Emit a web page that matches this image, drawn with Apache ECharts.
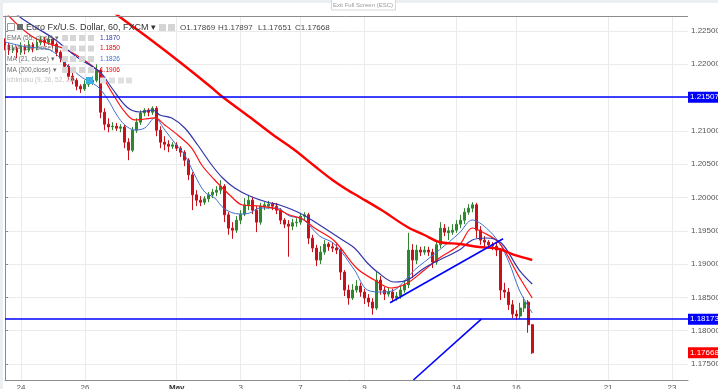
<!DOCTYPE html>
<html><head><meta charset="utf-8">
<script src="https://cdn.jsdelivr.net/npm/echarts/dist/echarts.min.js"></script>
<style>html,body{margin:0;padding:0;background:#fff;overflow:hidden}#c{width:718px;height:389px}</style>
</head><body><div id="c"></div>
<script>
// ---------- data ----------
const categoryCount = 172;                       // 3-hour slots on the time axis
const xLabelIdx  = [4, 20, 43, 59, 74, 90, 113, 128, 151, 167];
const xLabelText = ['24', '26', 'May', '3', '7', '9', '14', '16', '21', '23'];

const openP = [1.2233,1.2229,1.2221,1.2224,1.2218,1.2227,1.2221,1.2230,1.2224,1.2233,
1.2236,1.2233,1.2238,1.2230,1.2218,1.2209,1.2197,1.2182,1.2176,1.2167,
1.2163,1.2170,1.2173,1.2176,1.2191,1.2128,1.2110,1.2106,1.2107,1.2104,
1.2106,1.2083,1.2071,1.2101,1.2113,1.2127,1.2131,1.2128,1.2134,1.2101,
1.2083,1.2080,1.2077,1.2079,1.2074,1.2068,1.2056,1.2034,1.2004,1.1996,
1.1993,1.1998,1.2004,1.2008,1.2011,1.2017,1.1974,1.1954,1.1951,1.1966,
1.1975,1.1989,1.1996,1.1981,1.1963,1.1986,1.1987,1.1990,1.1987,1.1981,
1.1966,1.1960,1.1957,1.1962,1.1963,1.1972,1.1974,1.1939,1.1924,1.1906,
1.1918,1.1930,1.1926,1.1924,1.1921,1.1888,1.1861,1.1849,1.1861,1.1867,
1.1858,1.1849,1.1843,1.1834,1.1876,1.1861,1.1855,1.1858,1.1849,1.1852,
1.1861,1.1869,1.1921,1.1906,1.1921,1.1918,1.1921,1.1918,1.1903,1.1929,
1.1954,1.1947,1.1948,1.1951,1.1960,1.1966,1.1978,1.1984,1.1989,1.1951,
1.1936,1.1933,1.1929,1.1927,1.1921,1.1861,1.1858,1.1839,1.1825,1.1822,
1.1834,1.1843,1.1809];
const closeP = [1.2229,1.2221,1.2224,1.2218,1.2227,1.2221,1.2230,1.2224,1.2233,1.2236,
1.2233,1.2238,1.2230,1.2218,1.2209,1.2197,1.2182,1.2176,1.2167,1.2163,
1.2170,1.2173,1.2176,1.2191,1.2128,1.2110,1.2106,1.2107,1.2104,1.2106,
1.2083,1.2071,1.2101,1.2113,1.2127,1.2131,1.2128,1.2134,1.2101,1.2083,
1.2080,1.2077,1.2079,1.2074,1.2068,1.2056,1.2034,1.2004,1.1996,1.1993,
1.1998,1.2004,1.2008,1.2011,1.2017,1.1974,1.1954,1.1951,1.1966,1.1975,
1.1989,1.1996,1.1981,1.1963,1.1987,1.1989,1.1990,1.1987,1.1981,1.1966,
1.1960,1.1957,1.1962,1.1963,1.1972,1.1974,1.1939,1.1924,1.1906,1.1918,
1.1930,1.1926,1.1924,1.1921,1.1888,1.1861,1.1849,1.1861,1.1867,1.1858,
1.1849,1.1843,1.1834,1.1876,1.1861,1.1855,1.1858,1.1849,1.1852,1.1861,
1.1869,1.1921,1.1906,1.1921,1.1918,1.1921,1.1918,1.1903,1.1929,1.1954,
1.1948,1.1950,1.1951,1.1960,1.1966,1.1978,1.1984,1.1989,1.1951,1.1936,
1.1933,1.1929,1.1927,1.1921,1.1861,1.1858,1.1839,1.1825,1.1822,1.1834,
1.1843,1.1809,1.17668];
const lowP = [1.2221,1.2214,1.2217,1.2209,1.2214,1.2215,1.2218,1.2218,1.2221,1.2229,
1.2227,1.2229,1.2224,1.2212,1.2203,1.2191,1.2176,1.2170,1.2161,1.2157,
1.2160,1.2166,1.2169,1.2173,1.2119,1.2101,1.2098,1.2101,1.2100,1.2098,
1.2074,1.2056,1.2068,1.2097,1.2109,1.2122,1.2122,1.2124,1.2092,1.2074,
1.2071,1.2068,1.2073,1.2070,1.2061,1.2047,1.2026,1.1981,1.1987,1.1987,
1.1989,1.1993,1.1999,1.2002,1.2005,1.1963,1.1944,1.1938,1.1947,1.1960,
1.1972,1.1981,1.1975,1.1948,1.1959,1.1981,1.1983,1.1981,1.1975,1.1960,
1.1954,1.1911,1.1951,1.1956,1.1959,1.1966,1.1930,1.1918,1.1897,1.1900,
1.1914,1.1920,1.1918,1.1915,1.1876,1.1852,1.1839,1.1846,1.1857,1.1851,
1.1840,1.1836,1.1824,1.1831,1.1854,1.1846,1.1851,1.1843,1.1845,1.1848,
1.1857,1.1864,1.1879,1.1900,1.1912,1.1914,1.1912,1.1894,1.1899,1.1924,
1.1942,1.1936,1.1944,1.1947,1.1954,1.1960,1.1974,1.1978,1.1939,1.1929,
1.1926,1.1923,1.1921,1.1912,1.1846,1.1849,1.1831,1.1819,1.1816,1.1818,
1.1828,1.1797,1.17651];
const highP = [1.2239,1.2232,1.2229,1.2227,1.2233,1.2230,1.2236,1.2233,1.2239,1.2242,
1.2241,1.2244,1.2241,1.2233,1.2221,1.2212,1.2200,1.2188,1.2179,1.2170,
1.2176,1.2179,1.2182,1.2200,1.2194,1.2134,1.2119,1.2113,1.2112,1.2110,
1.2109,1.2089,1.2106,1.2119,1.2131,1.2134,1.2134,1.2137,1.2137,1.2107,
1.2092,1.2086,1.2083,1.2083,1.2077,1.2071,1.2059,1.2038,1.2011,1.2002,
1.2002,1.2008,1.2013,1.2017,1.2026,1.2020,1.1978,1.1963,1.1972,1.1981,
1.1999,1.2004,1.2001,1.1987,1.1992,1.1993,1.1995,1.1993,1.1992,1.1984,
1.1969,1.1966,1.1968,1.1969,1.1977,1.1978,1.1977,1.1944,1.1929,1.1927,
1.1936,1.1933,1.1932,1.1930,1.1924,1.1891,1.1869,1.1870,1.1876,1.1872,
1.1863,1.1855,1.1849,1.1888,1.1882,1.1866,1.1864,1.1863,1.1858,1.1867,
1.1876,1.1947,1.1930,1.1929,1.1926,1.1927,1.1926,1.1923,1.1936,1.1963,
1.1960,1.1956,1.1960,1.1966,1.1974,1.1984,1.1990,1.1993,1.1992,1.1957,
1.1942,1.1936,1.1933,1.1932,1.1924,1.1872,1.1864,1.1846,1.1831,1.1842,
1.1851,1.1846,1.17897];

// moving averages, [slot, price]
const ema55 = [[0,1.22890],[3.75,1.22710],[7.5,1.22560],[12,1.22395],[18,1.22110],[23.75,1.21884],[26.75,1.21644],[30.5,1.21359],[33.75,1.21284],[37,1.21314],[38.75,1.21239],[41.75,1.21194],[45,1.21044],[48.25,1.20788],[51.75,1.20488],[54.5,1.20293],[57.5,1.20143],[61.25,1.20023],[65.5,1.19932],[68.75,1.19887],[73.75,1.19767],[78.75,1.19587],[84.5,1.19362],[87.5,1.19242],[90.5,1.19032],[93.25,1.18881],[97.5,1.18731],[100.75,1.18761],[105,1.18941],[108.75,1.19062],[113.75,1.19212],[117,1.19362],[120.5,1.19392],[124.25,1.19317],[128.75,1.18911],[132,1.18701]];
const ema34 = [[0,1.22785],[7,1.22410],[15.5,1.22215],[20.5,1.22035],[23.75,1.21869],[27,1.21554],[30,1.21284],[32.5,1.21164],[35,1.21179],[37.5,1.21194],[40,1.21089],[43.25,1.20938],[46.75,1.20743],[49.25,1.20488],[52.5,1.20263],[56.25,1.20038],[59.5,1.19887],[63.75,1.19872],[68,1.19827],[71.25,1.19737],[74.5,1.19677],[77.5,1.19542],[82.5,1.19347],[88,1.18941],[92.5,1.18761],[96.75,1.18641],[100.75,1.18716],[105,1.18911],[108.75,1.19092],[113.75,1.19287],[117,1.19542],[119.5,1.19482],[123.75,1.19317],[128.75,1.18806],[132,1.18491]];
const ma21 = [[0,1.22335],[5.5,1.22260],[11.25,1.22215],[15.5,1.21989],[19.5,1.21794],[23,1.21674],[25.5,1.21494],[28,1.21239],[30,1.21089],[32.5,1.21014],[35,1.21044],[37.5,1.21194],[40,1.21014],[42.5,1.20818],[45,1.20638],[47.5,1.20338],[50,1.20083],[52.5,1.19993],[55,1.19827],[58.75,1.19752],[61.25,1.19767],[63.75,1.19842],[68,1.19842],[71.25,1.19722],[74.5,1.19677],[78.75,1.19422],[82.5,1.19302],[87.5,1.18911],[90.75,1.18611],[94.25,1.18581],[97.5,1.18611],[100,1.18746],[102.5,1.18911],[105,1.19032],[108.75,1.19212],[113.75,1.19467],[117,1.19662],[120.5,1.19542],[123.75,1.19317],[126.25,1.19017],[128.75,1.18611],[130.5,1.18416],[132,1.18266]];
const ma200 = [[23.75,1.22935],[28.75,1.22710],[36.25,1.22380],[43.75,1.22035],[51.25,1.21674],[54.5,1.21509],[61.25,1.21209],[67.5,1.20923],[72.5,1.20713],[77.5,1.20473],[82,1.20263],[85.75,1.20113],[88.75,1.20008],[94.25,1.19812],[100.75,1.19557],[105,1.19437],[108.75,1.19332],[113.75,1.19302],[118.75,1.19257],[123.75,1.19227],[127.5,1.19137],[132,1.19062]];

const levelLines = [1.21507, 1.18173];
const lastPrice = 1.17668;
const trendLineA = [[96.4, 1.1842], [124.7, 1.1938]];
const trendLineB = [[102.25, 1.1726], [119.25, 1.18173]];

const headerTitle = 'Euro Fx/U.S. Dollar, 60, FXCM';
const ohlcText = ['O1.17869', 'H1.17897', 'L1.17651', 'C1.17668'];
const studyNames  = ['EMA (55, close)', 'EMA (34, close)', 'MA (21, close)', 'MA (200,close)'];
const studyValues = ['1.1870', '1.1850', '1.1826', '1.1906'];
const ichimokuName = 'Ichimoku (9, 26, 52, 26)';

// ---------- chart ----------
const FONT = '"Liberation Sans", Arial, sans-serif';
const C_EMA55 = '#3434a8', C_RED = '#ff0000', C_MA21 = '#4070d0', C_LEVEL = '#0000ff';
const studyColors = [C_EMA55, '#e80000', C_MA21, '#e80000'];

const labelMap = {};
xLabelIdx.forEach((k, i) => { labelMap[k] = xLabelText[i]; });
const cats = Array.from({length: categoryCount}, (_, i) => String(i));
const isLabel = (idx) => labelMap[idx] !== undefined;
const candles = openP.map((o, i) => [o, closeP[i], lowP[i], highP[i]]);

function lineSeries(data, color, width, z) {
  return {type: 'line', xAxisIndex: 1, yAxisIndex: 0, data: data, symbol: 'none',
    smooth: 0.35, silent: true, z: z, lineStyle: {color: color, width: width}};
}
function priceTag(bg) {
  return {show: true, position: 'end', distance: 0, color: '#fff', backgroundColor: bg,
    fontSize: 8, fontFamily: FONT, padding: [2, 3, 1, 2],
    formatter: (p) => Number(p.value).toFixed(5)};
}

const graphics = [];
graphics.push({type: 'rect', shape: {x: 0, y: 0, width: 718, height: 3}, style: {fill: '#eceff2'}, silent: true, z: 100});
graphics.push({type: 'rect', shape: {x: 0, y: 0, width: 3, height: 389}, style: {fill: '#eceff2'}, silent: true, z: 100});
graphics.push({type: 'line', shape: {x1: 3, y1: 16.5, x2: 688, y2: 16.5}, style: {stroke: '#8c8c8c', lineWidth: 1}, silent: true, z: 100});
graphics.push({type: 'rect', shape: {x: 331.5, y: -1, width: 64, height: 11}, style: {fill: '#fff', stroke: '#d8d8d8'}, silent: true, z: 101});
graphics.push({type: 'text', x: 363, y: 5, style: {text: 'Exit Full Screen (ESC)', fill: '#9a9a9a', font: '6px ' + FONT, align: 'center', verticalAlign: 'middle'}, silent: true, z: 102});
// header row
graphics.push({type: 'rect', shape: {x: 7.5, y: 23.5, width: 7, height: 7}, style: {fill: '#fff', stroke: '#9a9a9a'}, silent: true, z: 101});
graphics.push({type: 'rect', shape: {x: 17, y: 24, width: 6, height: 6}, style: {fill: '#6a6a6a'}, silent: true, z: 101});
graphics.push({type: 'text', x: 26, y: 27.5, style: {text: headerTitle + ' ▾', fill: '#333', font: '9px ' + FONT, verticalAlign: 'middle'}, silent: true, z: 102});
[159, 168].forEach((x) => graphics.push({type: 'rect', shape: {x: x, y: 24, width: 7, height: 7}, style: {fill: '#d4d4d4'}, silent: true, z: 101}));
[180, 218, 258, 295].forEach((x, i) => graphics.push({type: 'text', x: x, y: 27.5, style: {text: ohlcText[i], fill: '#444', font: '8px ' + FONT, verticalAlign: 'middle'}, silent: true, z: 102}));
// study rows
const rowY = [38, 48.5, 59, 70];
studyNames.forEach((name, i) => {
  graphics.push({type: 'text', x: 7, y: rowY[i], style: {text: name + ' ▾', fill: '#6e6e6e', font: '6.5px ' + FONT, verticalAlign: 'middle'}, silent: true, z: 102});
  [62, 70, 79, 88].forEach((x) => graphics.push({type: 'rect', shape: {x: x, y: rowY[i] - 3, width: 6, height: 6}, style: {fill: '#d6d6d6'}, silent: true, z: 101}));
  graphics.push({type: 'text', x: 100, y: rowY[i], style: {text: studyValues[i], fill: studyColors[i], font: '6.5px ' + FONT, verticalAlign: 'middle'}, silent: true, z: 102});
});
graphics.push({type: 'text', x: 7, y: 80.5, style: {text: ichimokuName, fill: '#c4c4c4', font: '6.5px ' + FONT, verticalAlign: 'middle'}, silent: true, z: 102});
graphics.push({type: 'rect', shape: {x: 86, y: 77, width: 7, height: 7}, style: {fill: '#3cb0e0'}, silent: true, z: 101});
[100, 109, 118, 126].forEach((x) => graphics.push({type: 'rect', shape: {x: x, y: 77.5, width: 6, height: 6}, style: {fill: '#e0e0e0'}, silent: true, z: 101}));

const option = {
  animation: false,
  backgroundColor: '#ffffff',
  textStyle: {fontFamily: FONT},
  grid: {left: 5, right: 30, top: 16, bottom: 9, outerBoundsMode: 'none', containLabel: false},
  xAxis: [{
    type: 'category', data: cats, boundaryGap: false,
    axisLine: {show: true, lineStyle: {color: '#8c8c8c'}},
    axisTick: {show: false},
    axisLabel: {interval: (idx) => isLabel(idx), formatter: (v, idx) => {
        const t = labelMap[Number(v)] || '';
        return t === 'May' ? '{b|May}' : t; },
      fontSize: 8, color: '#555', margin: 4, fontFamily: FONT,
      rich: {b: {fontSize: 8, fontWeight: 'bold', color: '#333', fontFamily: FONT}}},
    splitLine: {show: true, interval: (idx) => isLabel(idx), lineStyle: {color: '#ebebeb', width: 1}}
  }, {
    type: 'value', min: 0, max: categoryCount - 1, show: false
  }],
  yAxis: {
    type: 'value', position: 'right', min: 1.1726, max: 1.22725, splitNumber: 10, scale: true,
    axisLine: {show: true, lineStyle: {color: '#8c8c8c'}},
    axisTick: {show: true, length: 3, lineStyle: {color: '#8c8c8c'}},
    axisLabel: {fontSize: 8, color: '#555', margin: 3, fontFamily: FONT,
      formatter: (v) => v.toFixed(5), showMinLabel: false, showMaxLabel: false},
    splitLine: {show: true, lineStyle: {color: '#ebebeb', width: 1}}
  },
  series: [
    {
      type: 'candlestick', data: candles, barWidth: 2.4, z: 2,
      itemStyle: {color: '#2f862f', color0: '#c8101a', borderColor: '#2f862f', borderColor0: '#c8101a', borderWidth: 1},
      markLine: {
        symbol: ['none', 'none'], silent: true, animation: false, precision: 5, z: 10,
        data: [
          {yAxis: levelLines[0], lineStyle: {color: C_LEVEL, width: 1.5, type: 'solid'}, label: priceTag(C_LEVEL)},
          {yAxis: levelLines[1], lineStyle: {color: C_LEVEL, width: 1.5, type: 'solid'}, label: priceTag(C_LEVEL)},
          {yAxis: lastPrice, lineStyle: {color: 'rgba(0,0,0,0)', width: 1, type: 'solid'}, label: priceTag('#ff0000')}
        ]
      }
    },
    lineSeries(ma21, C_MA21, 1, 5),
    lineSeries(ema34, '#ff1010', 1.2, 6),
    lineSeries(ema55, C_EMA55, 1.2, 6),
    lineSeries(ma200, C_RED, 2.4, 7),
    lineSeries(trendLineA, C_LEVEL, 1.6, 8),
    lineSeries(trendLineB, C_LEVEL, 1.6, 8)
  ],
  graphic: graphics
};
const chart = echarts.init(document.getElementById('c'));
chart.setOption(option);
</script>
</body></html>
